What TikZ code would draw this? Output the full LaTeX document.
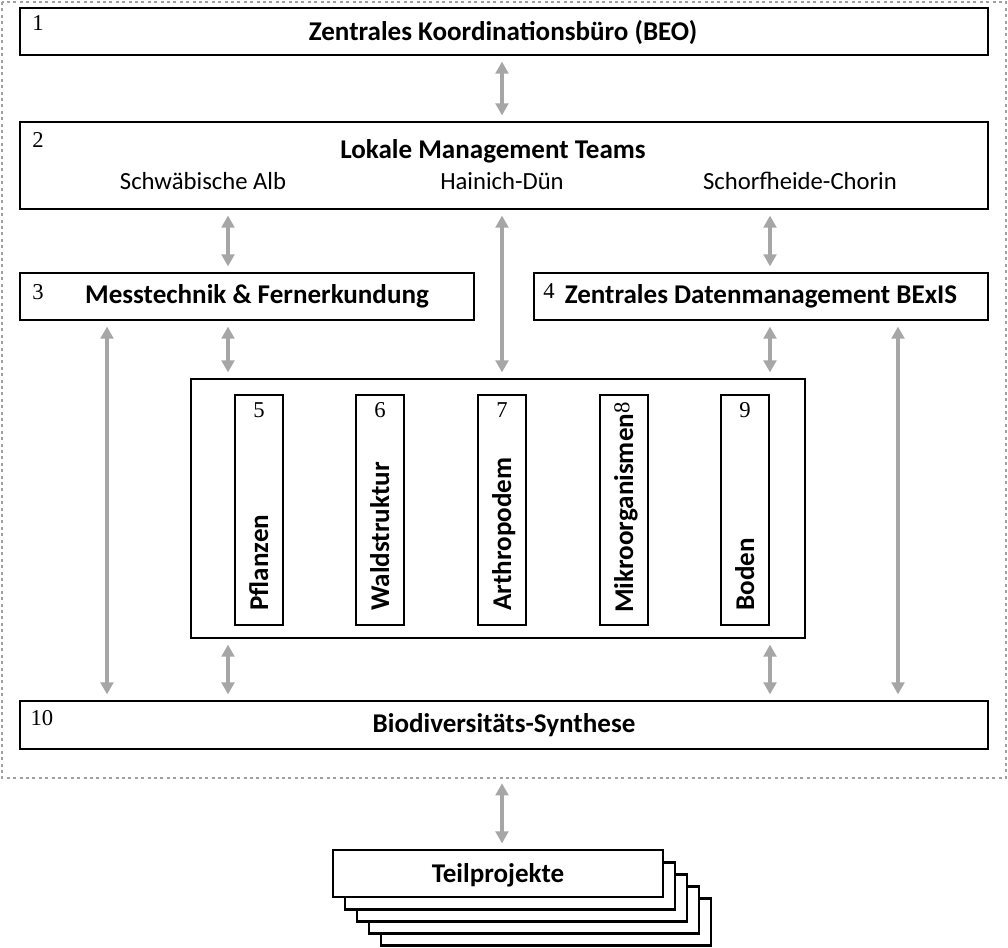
\documentclass[tikz,border=0pt]{standalone}
\usepackage{fontspec}
\setmainfont{Carlito}
\newfontfamily\numfont{Liberation Serif}
\usetikzlibrary{arrows.meta}
\definecolor{arrgray}{HTML}{A6A6A6}
\definecolor{dotgray}{HTML}{A0A0A0}
\tikzset{
  box/.style={draw=black, line width=1.9pt, fill=white, inner sep=0pt, rectangle},
  head/.style={font=\fontsize{20.3}{23}\selectfont\bfseries, inner sep=0pt},
  sub/.style={font=\fontsize{18.5}{21}\selectfont, inner sep=0pt},
  num/.style={font=\fontsize{17}{19}\selectfont\numfont, inner sep=0pt},
  vlab/.style={font=\fontsize{20.3}{23}\selectfont\bfseries, inner sep=0pt, rotate=90, anchor=base west},
  arr/.style={draw=arrgray, line width=3pt, {Triangle[width=9.5pt,length=9pt]}-{Triangle[width=9.5pt,length=9pt]}, shorten <=4pt, shorten >=4pt},
  frame/.style={draw=dotgray, line width=2.2pt, dash pattern=on 2.2pt off 2.6pt}
}
\begin{document}
\begin{tikzpicture}[x=0.75pt,y=-0.75pt]
\useasboundingbox (0,0) rectangle (1008,948);
% dotted frame
\draw[frame] (2,2) rectangle (1006,778);

% boxes
\node[box, minimum width=726pt, minimum height=35.25pt] (b1) at (504,31.5) {};
\node[box, minimum width=726pt, minimum height=65.25pt] (b2) at (504,165.5) {};
\node[box, minimum width=340.5pt, minimum height=35.25pt] (b3) at (247,296.5) {};
\node[box, minimum width=340.5pt, minimum height=35.25pt] (b4) at (761,296.5) {};
\node[box, minimum width=460.5pt, minimum height=194.25pt] (bc) at (498,508.5) {};
\node[box, minimum width=36pt, minimum height=172.5pt] (c5) at (259,510) {};
\node[box, minimum width=36pt, minimum height=172.5pt] (c6) at (380,510) {};
\node[box, minimum width=36pt, minimum height=172.5pt] (c7) at (502,510) {};
\node[box, minimum width=36pt, minimum height=172.5pt] (c8) at (624,510) {};
\node[box, minimum width=36pt, minimum height=172.5pt] (c9) at (745,510) {};
\node[box, minimum width=726pt, minimum height=36pt] (b10) at (504,725) {};

% Teilprojekte stack
\node[box, minimum width=247.5pt, minimum height=35.25pt] (t5) at (546,922) {};
\node[box, minimum width=247.5pt, minimum height=35.25pt] (t4) at (534,910) {};
\node[box, minimum width=247.5pt, minimum height=35.25pt] (t3) at (522,898) {};
\node[box, minimum width=247.5pt, minimum height=35.25pt] (t2) at (510,886) {};
\node[box, minimum width=247.5pt, minimum height=35.25pt] (t1) at (498,873.5) {};

% texts
\node[num] (n1) at (38,23) {1};
\node[head] (l1) at (503,33) {Zentrales Koordinationsbüro (BEO)};
\node[num] (n2) at (38,140) {2};
\node[head] (l2) at (493,151) {Lokale Management Teams};
\node[sub] (s1) at (203,181) {Schwäbische Alb};
\node[sub] (s2) at (502,181) {Hainich-Dün};
\node[sub] (s3) at (800,181) {Schorfheide-Chorin};
\node[num] (n3) at (38,292) {3};
\node[head] (l3) at (257,296) {Messtechnik \& Fernerkundung};
\node[num] (n4) at (549,291) {4};
\node[head] (l4) at (761,296) {Zentrales Datenmanagement BExIS};
\node[num] (n5) at (259,410) {5};
\node[num] (n6) at (380,410) {6};
\node[num] (n7) at (502,410) {7};
\node[num, rotate=90] (n8) at (622,408) {8};
\node[num] (n9) at (745,410) {9};
\node[vlab] (v5) at (268,611) {Pflanzen};
\node[vlab] (v6) at (389,611) {Waldstruktur};
\node[vlab] (v7) at (511,611) {Arthropodem};
\node[vlab] (v8) at (633,613) {Mikroorganismen};
\node[vlab] (v9) at (754,611) {Boden};
\node[num] (n10) at (42,718) {10};
\node[head] (l10) at (504,725) {Biodiversitäts-Synthese};
\node[head] (lt) at (498,875) {Teilprojekte};

% x positions for connectors
\coordinate (xa) at (107,0);
\coordinate (xb) at (228,0);
\coordinate (xc) at (502,0);
\coordinate (xd) at (770,0);
\coordinate (xe) at (898,0);
\coordinate (fb) at (502,778);

% connectors
\draw[arr] (b1.south -| xc) -- (b2.north -| xc);
\draw[arr] (b2.south -| xb) -- (b3.north -| xb);
\draw[arr] (b2.south -| xc) -- (bc.north -| xc);
\draw[arr] (b2.south -| xd) -- (b4.north -| xd);
\draw[arr] (b3.south -| xb) -- (bc.north -| xb);
\draw[arr] (b4.south -| xd) -- (bc.north -| xd);
\draw[arr] (b3.south -| xa) -- (b10.north -| xa);
\draw[arr] (b4.south -| xe) -- (b10.north -| xe);
\draw[arr] (bc.south -| xb) -- (b10.north -| xb);
\draw[arr] (bc.south -| xd) -- (b10.north -| xd);
\draw[arr] (fb) -- (t1.north -| xc);
\end{tikzpicture}
\end{document}
